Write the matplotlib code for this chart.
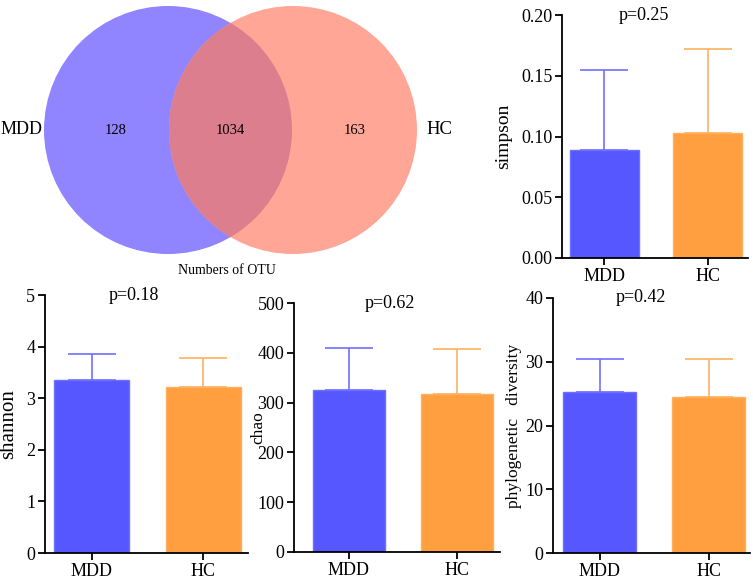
import matplotlib.pyplot as plt
from matplotlib.patches import Circle

plt.rcParams['font.family'] = ['Liberation Serif', 'DejaVu Serif']

groups = ["MDD", "HC"]
venn_counts = [128, 1034, 163]  # MDD only, shared, HC only

simpson = [0.089, 0.103]
simpson_sd = [0.066, 0.069]
shannon = [3.35, 3.22]
shannon_sd = [0.51, 0.55]
chao = [325, 317]
chao_sd = [85, 91]
pd_vals = [25.3, 24.5]
pd_sd = [5.1, 6.0]

bar_colors = ["#5757FF", "#FF9F40"]
edge_colors = ["#7070FF", "#FFB060"]

fig = plt.figure(figsize=(7.53, 5.87), dpi=100)

# venn in pixel coordinates
vax = fig.add_axes([0, 0, 1, 1])
vax.set_xlim(0, 753)
vax.set_ylim(587, 0)
vax.axis("off")
left = Circle((168, 130), 124, color="#9084FF", lw=0)
right = Circle((293, 130), 124, color="#FFA696", lw=0)
vax.add_patch(left)
vax.add_patch(right)
mid = Circle((293, 130), 124, color="#DD7E8E", lw=0)
vax.add_patch(mid)
mid.set_clip_path(left)
vax.text(1, 130, groups[0], fontsize=13, ha="left", va="center")
vax.text(439, 130, groups[1], fontsize=13.5, ha="center", va="center")
vax.text(116, 130, str(venn_counts[0]), fontsize=10.5, ha="center", va="center")
vax.text(230, 130, str(venn_counts[1]), fontsize=10.5, ha="center", va="center")
vax.text(355, 130, str(venn_counts[2]), fontsize=10.5, ha="center", va="center")
vax.text(227, 271, "Numbers of OTU", fontsize=10, ha="center", va="center")


def bar_panel(rect, vals, sds, ylabel, ymax, yticks, ticklabels, ptext, xl, labx, labsize):
    ax = fig.add_axes(rect)
    x = [0, 1]
    for i in range(2):
        ax.bar(x[i], vals[i], width=0.67, color=bar_colors[i],
               edgecolor=edge_colors[i], linewidth=1, zorder=2)
        ax.errorbar(x[i], vals[i], yerr=[[0], [sds[i]]], color=edge_colors[i],
                    capsize=17, elinewidth=1.2, capthick=1.2, zorder=1)
    ax.set_xlim(*xl)
    ax.set_ylim(0, ymax)
    ax.set_yticks(yticks)
    ax.set_yticklabels(ticklabels)
    ax.set_xticks(x)
    ax.set_xticklabels(groups)
    ax.set_ylabel(ylabel, fontsize=labsize, va="center")
    ax.yaxis.set_label_coords(labx / 753, rect[1] + rect[3] / 2,
                              transform=fig.transFigure)
    ax.text(0.38, ymax, ptext, fontsize=13, ha="center", va="center")
    for s in ["top", "right"]:
        ax.spines[s].set_visible(False)
    for s in ["left", "bottom"]:
        ax.spines[s].set_linewidth(1.3)
    ax.tick_params(direction="out", length=5, width=1.3, labelsize=13, pad=2)
    return ax


bar_panel([562 / 753, 1 - 258 / 587, 186 / 753, 243 / 587], simpson, simpson_sd,
          "simpson", 0.20, [0, 0.05, 0.10, 0.15, 0.20],
          ["0.00", "0.05", "0.10", "0.15", "0.20"], "p=0.25", (-0.41, 1.39), 504, 14)
bar_panel([45 / 753, 1 - 553 / 587, 203 / 753, 258 / 587], shannon, shannon_sd,
          "shannon", 5, [0, 1, 2, 3, 4, 5], ["0", "1", "2", "3", "4", "5"],
          "p=0.18", (-0.42, 1.40), 9, 15)
bar_panel([294 / 753, 1 - 552 / 587, 206 / 753, 249 / 587], chao, chao_sd,
          "chao", 500, [0, 100, 200, 300, 400, 500],
          ["0", "100", "200", "300", "400", "500"], "p=0.62", (-0.51, 1.40), 258, 12.5)
bar_panel([553 / 753, 1 - 553 / 587, 197 / 753, 255 / 587], pd_vals, pd_sd,
          "phylogenetic   diversity", 40, [0, 10, 20, 30, 40],
          ["0", "10", "20", "30", "40"], "p=0.42", (-0.43, 1.38), 514, 12.5)

fig.savefig("out.png", dpi=100)
